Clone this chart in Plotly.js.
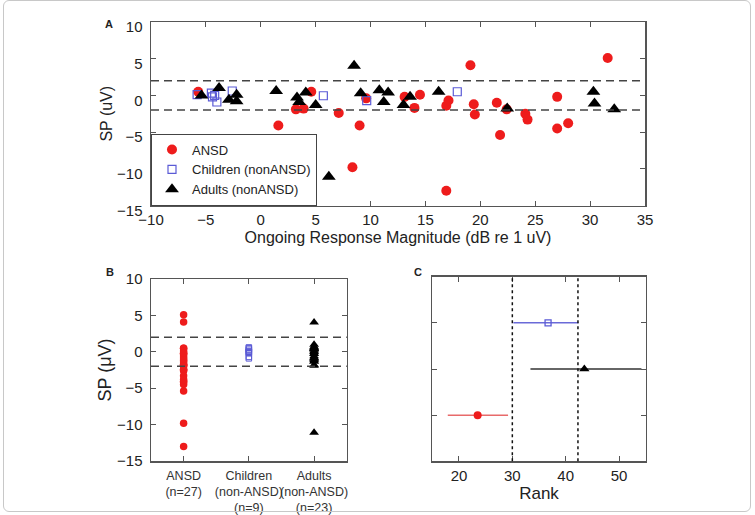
<!DOCTYPE html>
<html>
<head>
<meta charset="utf-8">
<script src="https://cdn.plot.ly/plotly-3.0.1.min.js"></script>
<style>
  html, body { margin: 0; padding: 0; background: #fff; }
  #wrap { position: relative; width: 755px; height: 515px; }
  #chart { position: absolute; left: 0; top: 0; width: 755px; height: 515px; }
  #frame { position: absolute; left: 3px; top: 0px; width: 746px; height: 510px;
           border: 1px solid #c8c8c8; border-radius: 6px; pointer-events: none; }
</style>
</head>
<body>
<div id="wrap"><div id="chart"></div><div id="frame"></div></div>
<script>
// ---- Panel A data: ongoing response magnitude (dB re 1 uV) vs SP (uV)
const ansdX  = [-5.7, 1.6, 3.2, 3.9, 4.6, 7.1, 8.35, 9.0, 9.6, 13.1, 14.0, 14.5, 16.9, 16.9, 17.1, 19.1, 19.4, 19.5, 21.5, 21.8, 22.4, 24.1, 24.3, 27.0, 27.0, 28.0, 31.6];
const ansdY  = [0.5, -4.1, -1.9, -1.8, 0.5, -2.4, -9.8, -4.1, -0.4, -0.2, -1.7, 0.1, -13.0, -1.4, -0.7, 4.1, -1.2, -2.6, -1.0, -5.4, -1.9, -2.5, -3.3, -0.2, -4.5, -3.8, 5.1];
const childX = [-5.8, -4.5, -4.4, -4.0, -2.6, 5.7, 9.65, 17.9, -4.2];
const childY = [0.1, 0.3, -0.2, -0.9, 0.6, -0.05, -0.7, 0.5, 0.0];
const adultX = [-5.4, -3.8, -2.9, -2.2, -2.2, 1.4, 3.3, 3.5, 4.1, 5.0, 6.2, 8.5, 9.1, 10.8, 11.2, 11.6, 13.0, 13.6, 16.2, 22.45, 30.3, 30.4, 32.2];
const adultY = [0.0, 1.0, -0.6, 0.1, -0.8, 0.6, -0.3, -0.9, 0.4, -1.3, -11.1, 4.05, 0.3, 0.7, -0.9, 0.4, -1.3, -0.2, 0.5, -1.8, 0.5, -1.1, -1.9];
const spLimits = [-2, 2];

// ---- Panel B categories
const groupNames = ["ANSD", "Children (nonANSD)", "Adults (nonANSD)"];
const groupPos = [1, 2, 3];
const groupTicks = ["ANSD<br>(n=27)", "Children<br>(non-ANSD)<br>(n=9)", "Adults<br>(non-ANSD)<br>(n=23)"];

// ---- Panel C: rank (median and interval); rows: ANSD, Children, Adults
const rankRow  = [1, 3, 2];
const rankMid  = [23.5, 36.7, 43.5];
const rankLow  = [17.9, 30.2, 33.4];
const rankHigh = [29.2, 42.4, 54.2];
const rankLines = [30.0, 42.3];

const RED = '#ee1c1c', BLUE = '#5b5bd6', BLACK = '#000000';
const FONT = 'Liberation Sans, Arial, sans-serif';
const AX = '#555555';

const sym = ['circle', 'square-open', 'triangle-up'];
const col = [RED, BLUE, BLACK];
const xsA = [ansdX, childX, adultX];
const ysA = [ansdY, childY, adultY];
const sizeA = [10, 8, 12];
const sizeB = [7.5, 5.5, 8.5];
const sizeC = [8, 6, 9];
const lineC = ['#e86a6a', '#6a6ad8', '#333333'];

const traces = [];
for (let g = 0; g < 3; g++) {
  traces.push({
    type: 'scatter', mode: 'markers', x: xsA[g], y: ysA[g], xaxis: 'x', yaxis: 'y',
    name: groupNames[g], showlegend: true,
    marker: { symbol: sym[g], color: col[g], size: sizeA[g], line: { width: g === 1 ? 1.2 : 0, color: col[g] } }
  });
}
for (let g = 0; g < 3; g++) {
  traces.push({
    type: 'scatter', mode: 'markers', x: ysA[g].map(() => groupPos[g]), y: ysA[g], xaxis: 'x2', yaxis: 'y2',
    showlegend: false,
    marker: { symbol: sym[g], color: col[g], size: sizeB[g], line: { width: g === 1 ? 1 : 0, color: col[g] } }
  });
}
for (let g = 0; g < 3; g++) {
  traces.push({
    type: 'scatter', mode: 'markers', x: [rankMid[g]], y: [rankRow[g]], xaxis: 'x3', yaxis: 'y3',
    showlegend: false,
    marker: { symbol: sym[g], color: col[g], size: sizeC[g], line: { width: g === 1 ? 1.3 : 0, color: col[g] } },
    error_x: { type: 'data', symmetric: false, array: [rankHigh[g] - rankMid[g]], arrayminus: [rankMid[g] - rankLow[g]],
               width: 0, thickness: 1.5, color: lineC[g] }
  });
}

function axisBase(extra) {
  return Object.assign({
    showline: true, linecolor: AX, linewidth: 1.5, mirror: 'ticks',
    ticks: 'inside', ticklen: 5, tickwidth: 1, tickcolor: AX,
    showgrid: false, zeroline: false,
    tickfont: { family: FONT, size: 15, color: '#222' }
  }, extra);
}

const shapes = [];
spLimits.forEach(v => {
  shapes.push({ type: 'line', xref: 'x domain', yref: 'y', x0: 0, x1: 1, y0: v, y1: v,
    line: { color: '#444', width: 1.5, dash: '8px,5px' } });
  shapes.push({ type: 'line', xref: 'x2 domain', yref: 'y2', x0: 0, x1: 1, y0: v, y1: v,
    line: { color: '#444', width: 1.5, dash: '8px,5px' } });
});
rankLines.forEach(v => {
  shapes.push({ type: 'line', xref: 'x3', yref: 'y3 domain', x0: v, x1: v, y0: 0, y1: 1,
    line: { color: '#111', width: 1.5, dash: 'dot' } });
});

const W = 755, H = 515;
const layout = {
  width: W, height: H,
  margin: { l: 0, r: 0, t: 0, b: 0 },
  paper_bgcolor: '#ffffff', plot_bgcolor: '#ffffff',
  font: { family: FONT, color: '#222' },
  showlegend: true,
  legend: {
    x: 151 / W, y: 1 - 205.5 / H, xanchor: 'left', yanchor: 'bottom',
    bgcolor: '#ffffff', bordercolor: '#444', borderwidth: 1,
    font: { family: FONT, size: 13, color: '#222' }, tracegroupgap: 0, itemwidth: 30
  },
  xaxis: axisBase({ domain: [151 / W, 645 / W], range: [-10, 35], dtick: 5, anchor: 'y',
    title: { text: 'Ongoing Response Magnitude (dB re 1 uV)', font: { family: FONT, size: 16, color: '#222' }, standoff: 5 } }),
  yaxis: axisBase({ domain: [1 - 205.5 / H, 1 - 22 / H], range: [-15, 10], dtick: 5, anchor: 'x',
    ticklabelshift: 5, ticklabelstandoff: 4,
    title: { text: 'SP (uV)', font: { family: FONT, size: 16, color: '#222' }, standoff: 0 } }),
  xaxis2: axisBase({ domain: [151 / W, 346.7 / W], range: [0.5, 3.5], anchor: 'y2', tickangle: 0,
    ticklabelstandoff: 2,
    tickvals: groupPos, ticktext: groupTicks, tickfont: { family: FONT, size: 12.5, color: '#333' } }),
  yaxis2: axisBase({ domain: [1 - 461 / H, 1 - 279 / H], range: [-15, 10], dtick: 5, anchor: 'x2',
    ticklabelstandoff: 4,
    title: { text: 'SP (μV)', font: { family: FONT, size: 18, color: '#222' }, standoff: 0 } }),
  xaxis3: axisBase({ domain: [432.3 / W, 645.7 / W], range: [15, 55], tickvals: [20, 30, 40, 50], anchor: 'y3',
    title: { text: 'Rank', font: { family: FONT, size: 17, color: '#222' }, standoff: 2 } }),
  yaxis3: axisBase({ domain: [1 - 461.3 / H, 1 - 276.7 / H], range: [0, 4], tickvals: [1, 2, 3], showticklabels: false, anchor: 'x3' }),
  shapes: shapes,
  annotations: [
    { text: '<b>A</b>', xref: 'paper', yref: 'paper', x: 103 / W, y: 1 - 16 / H, showarrow: false, font: { family: FONT, size: 11, color: '#222' } },
    { text: '<b>B</b>', xref: 'paper', yref: 'paper', x: 104 / W, y: 1 - 272 / H, showarrow: false, font: { family: FONT, size: 11, color: '#222' } },
    { text: '<b>C</b>', xref: 'paper', yref: 'paper', x: 418 / W, y: 1 - 272 / H, showarrow: false, font: { family: FONT, size: 11, color: '#222' } }
  ]
};

Plotly.newPlot('chart', traces, layout, { staticPlot: true, displayModeBar: false });
</script>
</body>
</html>
